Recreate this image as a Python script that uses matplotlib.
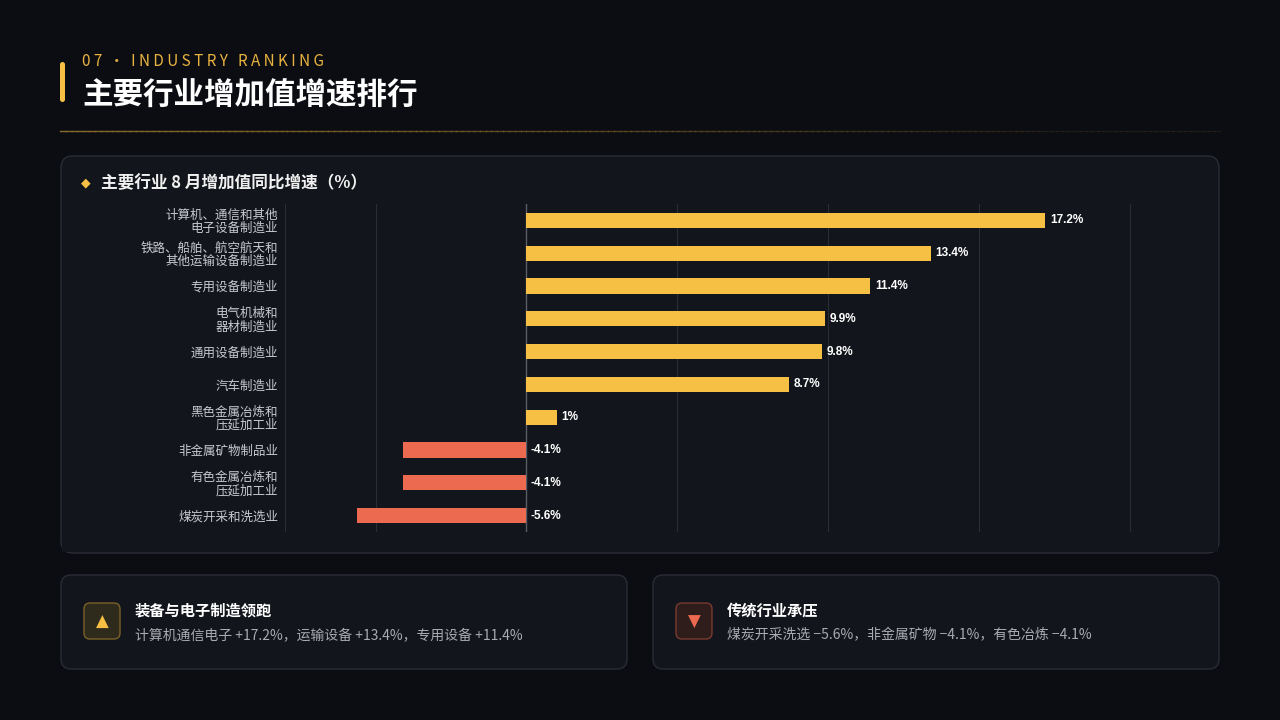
import matplotlib
matplotlib.use("Agg")
import matplotlib.pyplot as plt
from matplotlib.patches import FancyBboxPatch, Rectangle
import numpy as np

plt.rcParams['font.family'] = ['Noto Sans CJK SC', 'DejaVu Sans']

categories = ["计算机、通信和其他\n电子设备制造业", "铁路、船舶、航空航天和\n其他运输设备制造业", "专用设备制造业",
              "电气机械和\n器材制造业", "通用设备制造业", "汽车制造业", "黑色金属冶炼和\n压延加工业",
              "非金属矿物制品业", "有色金属冶炼和\n压延加工业", "煤炭开采和洗选业"]
values = [17.2, 13.4, 11.4, 9.9, 9.8, 8.7, 1, -4.1, -4.1, -5.6]
labels = ["17.2%", "13.4%", "11.4%", "9.9%", "9.8%", "8.7%", "1%", "-4.1%", "-4.1%", "-5.6%"]
xticks = [-8, -5, 0, 5, 10, 15, 20]

W, H = 1280, 720
fig = plt.figure(figsize=(12.8, 7.2), dpi=100)
fig.patch.set_facecolor("#0b0d12")
bg = fig.add_axes([0, 0, 1, 1]); bg.set_xlim(0, W); bg.set_ylim(H, 0); bg.axis("off")

def rbox(x, y, w, h, fc, ec, r=10, lw=1):
    bg.add_patch(FancyBboxPatch((x, y), w, h, boxstyle=f"round,pad=0,rounding_size={r}",
                                fc=fc, ec=ec, lw=lw))

bg.add_patch(FancyBboxPatch((60, 62), 5, 40, boxstyle="round,pad=0,rounding_size=2.5", fc="#f5c043", ec="none"))
bg.text(82, 61, "0 7  ·  I N D U S T R Y   R A N K I N G", color="#e8b340", fontsize=11, va="center")
bg.text(82, 96, "主要行业增加值增速排行", color="white", fontsize=22, fontweight="bold", va="center")
xs = np.linspace(60, 1220, 200)
for i in range(len(xs) - 1):
    a = 1 - i / len(xs)
    bg.plot(xs[i:i + 2], [131, 131], color="#8a6a2a", alpha=max(0.15, a), lw=1)

rbox(61, 156, 1158, 397, "#12151b", "#2a2d35", r=12)
bg.text(81, 183, "◆", color="#f5c043", fontsize=9, va="center", family=["DejaVu Sans"])
bg.text(101, 183, "主要行业 8 月增加值同比增速（%）", color="#f0f0f0", fontsize=12, fontweight="bold", va="center")

rbox(61, 575, 566, 94, "#12151b", "#2a2d35", r=10)
rbox(653, 575, 566, 94, "#12151b", "#2a2d35", r=10)
rbox(84, 603, 36, 36, "#2e2a1c", "#7a6228", r=6)
bg.text(102, 622, "▲", color="#f5c043", fontsize=12, ha="center", va="center", family=["DejaVu Sans"])
rbox(676, 603, 36, 36, "#2e1d1b", "#7a3a2e", r=6)
bg.text(694, 622, "▼", color="#ec6a4f", fontsize=12, ha="center", va="center", family=["DejaVu Sans"])
bg.text(135, 611, "装备与电子制造领跑", color="white", fontsize=11, fontweight="bold", va="center")
bg.text(135, 635, "计算机通信电子 +17.2%，运输设备 +13.4%，专用设备 +11.4%", color="#a8abb2", fontsize=10, va="center")
bg.text(727, 611, "传统行业承压", color="white", fontsize=11, fontweight="bold", va="center")
bg.text(727, 635, "煤炭开采洗选 −5.6%，非金属矿物 −4.1%，有色冶炼 −4.1%", color="#a8abb2", fontsize=10, va="center")

l, r, t, b = 285, 1160, 204, 532
ax = fig.add_axes([l / W, 1 - b / H, (r - l) / W, (b - t) / H])
ax.set_facecolor("none")
y = np.arange(len(values))
colors = ["#f5c043" if v >= 0 else "#ec6a4f" for v in values]
ax.barh(y, values, height=0.46, color=colors, zorder=3)
for yi, v, lab in zip(y, values, labels):
    ax.text(max(v, 0) + 0.15, yi, lab, color="white", fontsize=8.5, fontweight="bold",
            va="center", ha="left", family=["Liberation Sans"], zorder=4)
ax.set_xlim(-8, 21)
ax.set_ylim(len(values) - 0.5, -0.5)
ax.set_yticks(y)
ax.set_yticklabels(categories, color="#c8cad0", fontsize=9, linespacing=1.0)
ax.set_xticks(xticks)
ax.set_xticklabels([str(x) for x in xticks], color="#6a6d75", fontsize=7)
ax.tick_params(axis="both", length=0)
ax.tick_params(axis="y", pad=10)
ax.tick_params(axis="x", pad=8)
for lbl in ax.get_yticklabels():
    lbl.set_x(0.0)
ax.yaxis.set_tick_params(pad=5)
ax.grid(axis="x", color="#2a2d35", lw=0.8, zorder=0)
ax.axvline(0, color="#5a5d65", lw=1, zorder=2)
for s in ax.spines.values():
    s.set_visible(False)

bg.set_zorder(0); ax.set_zorder(1)
cover = fig.add_axes([0, 0, 1, 1]); cover.set_xlim(0, W); cover.set_ylim(H, 0); cover.axis("off")
cover.set_zorder(2)
cover.add_patch(Rectangle((62, 543), 1156, 9, fc="#12151b", ec="none"))

fig.savefig("out.png", dpi=100, facecolor=fig.get_facecolor())
